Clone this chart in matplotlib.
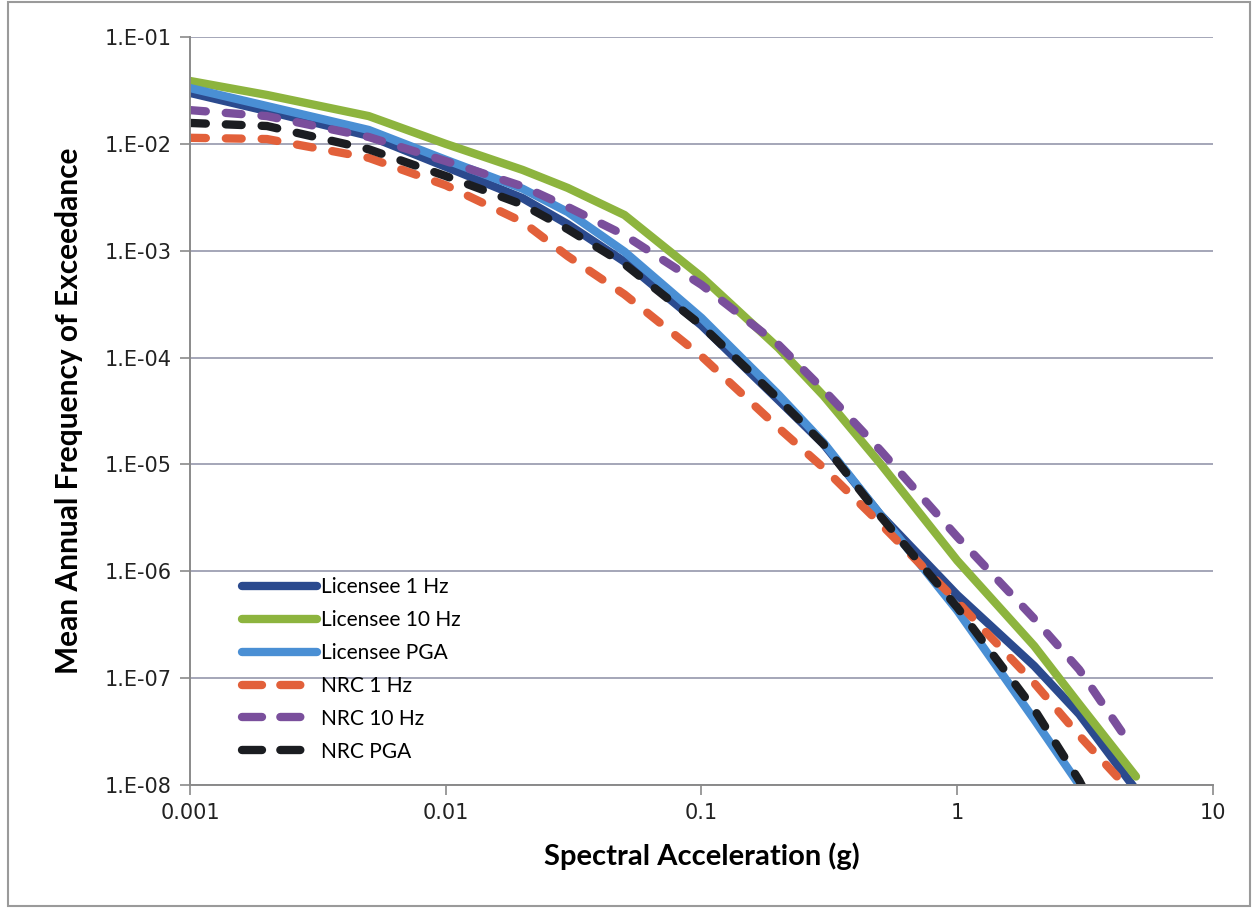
import numpy as np
import matplotlib
matplotlib.use("Agg")
import matplotlib.pyplot as plt
from matplotlib.patches import Rectangle
from matplotlib.ticker import FixedLocator, FuncFormatter, NullLocator

# spectral acceleration (g)
sa = [0.001, 0.002, 0.005, 0.01, 0.02, 0.03, 0.05, 0.1, 0.2, 0.3, 0.5, 1, 2, 3, 5]
sa_nrc_10hz = [0.001, 0.002, 0.005, 0.01, 0.02, 0.03, 0.05, 0.1, 0.2, 0.3, 0.5, 1, 2, 3, 4.5]

# mean annual frequency of exceedance
lic_1hz = [0.0300, 0.0203, 0.0119, 0.0061, 0.0031, 0.00177, 7.9e-4, 2.0e-4, 4.0e-5,
           1.55e-5, 3.4e-6, 6.0e-7, 1.3e-7, 4.6e-8, 9e-9]
lic_10hz = [0.0388, 0.0287, 0.0182, 0.0100, 0.0057, 0.00387, 0.00216, 5.7e-4, 1.23e-4,
            4.4e-5, 1.02e-5, 1.26e-6, 2.0e-7, 5.7e-8, 1.2e-8]
lic_pga = [0.0333, 0.0226, 0.0135, 0.0071, 0.0038, 0.0023, 9.8e-4, 2.35e-4, 4.5e-5,
           1.6e-5, 3.4e-6, 4.3e-7, 4.1e-8, 1.0e-8, 8e-10]
nrc_1hz = [0.0114, 0.0111, 0.0074, 0.0041, 0.00186, 8.9e-4, 3.9e-4, 1.03e-4, 2.2e-5,
           9.3e-6, 2.8e-6, 5.2e-7, 9e-8, 2.9e-8, 7.7e-9]
nrc_10hz = [0.0207, 0.0182, 0.0116, 0.0069, 0.0040, 0.00257, 0.0014, 4.8e-4, 1.32e-4,
            5.0e-5, 1.36e-5, 2.1e-6, 3.6e-7, 1.2e-7, 2.9e-8]
nrc_pga = [0.0157, 0.0147, 0.0089, 0.0050, 0.0027, 0.00159, 7.5e-4, 2.0e-4, 4.1e-5,
           1.55e-5, 3.3e-6, 4.6e-7, 5.1e-8, 1.1e-8, 1e-9]

x_ticks = [0.001, 0.01, 0.1, 1, 10]
y_ticks = [1e-8, 1e-7, 1e-6, 1e-5, 1e-4, 1e-3, 1e-2, 1e-1]

fig = plt.figure(figsize=(12.55, 9.1), dpi=100)
ax = fig.add_axes([0.1514, 0.1374, 0.8151, 0.8219])

lw = 6
dash = (1.9, 2.4)
ax.plot(sa, lic_1hz, color="#2b4a8e", lw=lw, solid_capstyle="round", label="Licensee 1 Hz")
ax.plot(sa, lic_10hz, color="#8db43e", lw=lw, solid_capstyle="round", label="Licensee 10 Hz")
ax.plot(sa, lic_pga, color="#4a8fd4", lw=lw, solid_capstyle="round", label="Licensee PGA")
ax.plot(sa, nrc_1hz, color="#e2603a", lw=lw, dashes=dash, dash_capstyle="round", label="NRC 1 Hz")
ax.plot(sa_nrc_10hz, nrc_10hz, color="#7a4f9c", lw=lw, dashes=dash, dash_capstyle="round", label="NRC 10 Hz")
ax.plot(sa, nrc_pga, color="#1b1d21", lw=lw, dashes=dash, dash_capstyle="round", label="NRC PGA")

ax.set_xscale("log")
ax.set_yscale("log")
ax.set_xlim(0.001, 10)
ax.set_ylim(1e-8, 1e-1)
ax.xaxis.set_major_locator(FixedLocator(x_ticks))
ax.yaxis.set_major_locator(FixedLocator(y_ticks))
ax.xaxis.set_minor_locator(NullLocator())
ax.yaxis.set_minor_locator(NullLocator())
ax.xaxis.set_major_formatter(FuncFormatter(lambda v, p: f"{v:g}"))
ax.yaxis.set_major_formatter(FuncFormatter(lambda v, p: "1.E-%02d" % round(-np.log10(v))))
ax.tick_params(axis="both", direction="out", length=7, width=1.2, color="#8a8a8a",
               labelsize=15, labelcolor="#222222", pad=6)

ax.grid(axis="y", color="#a4a6b8", lw=1.4)
ax.set_axisbelow(True)
for side in ["top", "right"]:
    ax.spines[side].set_visible(False)
for side in ["left", "bottom"]:
    ax.spines[side].set_color("#8a8a8a")
    ax.spines[side].set_linewidth(1.4)

ax.set_xlabel("Spectral Acceleration (g)", fontsize=21, fontweight="bold", family="Lato", labelpad=14)
ax.set_ylabel("Mean Annual Frequency of Exceedance", fontsize=21.5, fontweight="bold", family="Lato", labelpad=16)

leg = ax.legend(loc="lower left", bbox_to_anchor=(0.043, 0.02), frameon=False,
                prop={"family": "Lato", "size": 15}, handlelength=3.6, handletextpad=0.2,
                labelspacing=0.62, borderaxespad=0)
for line in leg.get_lines()[3:]:
    line.set_dashes((2.4, 2.2))

fig.patches.append(Rectangle((0.006, 0.004), 0.99, 0.994, transform=fig.transFigure,
                             fill=False, edgecolor="#9a9a9a", lw=1.5))

fig.savefig("out.png", dpi=100)
